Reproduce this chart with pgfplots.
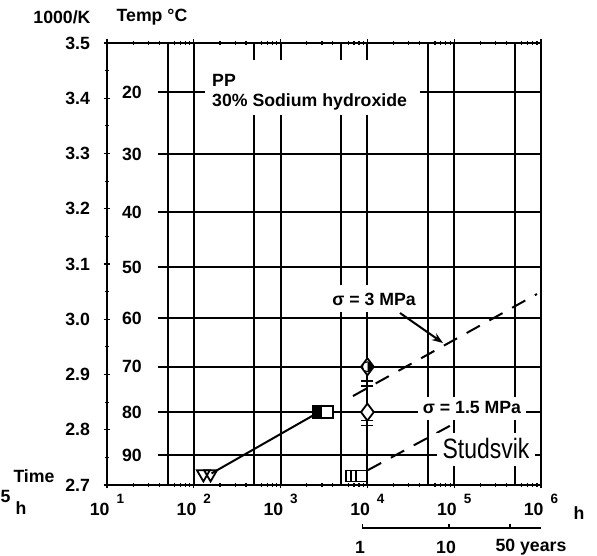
\documentclass[border=0pt]{standalone}
\usepackage{pgfplots}
\pgfplotsset{compat=1.18}
\usepackage{graphicx}
\usepackage{fontspec}
\setmainfont{Liberation Sans}
\usetikzlibrary{arrows.meta}
\newcommand{\f}{\fontsize{17.7}{20}\selectfont\bfseries}
\newcommand{\tl}[1]{10\hspace{7pt}\raisebox{12pt}{\fontsize{13.5}{13.5}\selectfont #1}}
\begin{document}
\begin{tikzpicture}[x=1pt,y=1pt]
\useasboundingbox (-107,-71) rectangle (490,485);
\begin{axis}[
  at={(0,0)}, anchor=south west,
  scale only axis, width=434pt, height=442pt,
  xmode=log, log basis x=10, xmin=10, xmax=1e6, ymin=2.7, ymax=3.5,
  axis line style={line width=2.4pt},
  xtick={10,100,1000,10000,100000,1000000},
  xticklabels={\tl{1},\tl{2},\tl{3},\tl{4},\tl{5},\tl{6}},
  minor xtick={20,30,40,60,70,80,90,200,300,400,600,700,800,900,2000,3000,4000,6000,7000,8000,9000,20000,30000,40000,60000,70000,80000,90000,200000,300000,400000,600000,700000,800000,900000},
  extra x ticks={50,500,5000,50000,500000},
  extra x tick labels={},
  extra x tick style={grid=major, major tick length=0pt},
  xmajorgrids=true,
  major grid style={line width=2pt, black},
  ytick={2.7,2.8,2.9,3.0,3.1,3.2,3.3,3.4,3.5},
  minor ytick={2.75,2.85,2.95,3.05,3.15,3.25,3.35,3.45},
  ytick pos=left,
  xtick pos=both,
  tick align=center,
  major tick length=7pt,
  minor tick length=4pt,
  every tick/.style={black, line width=1.2pt},
  /pgf/number format/assume math mode=true,
  yticklabel style={font=\f, xshift=-10pt, /pgf/number format/.cd, fixed, fixed zerofill, precision=1},
  xticklabel style={font=\f, yshift=-2pt},
  clip=false,
]
% temperature grid lines
\addplot[black, line width=2pt, forget plot] coordinates {(38.7,3.4112) (1e6,3.4112)};
\addplot[black, line width=2pt, forget plot] coordinates {(38.7,3.2987) (1e6,3.2987)};
\addplot[black, line width=2pt, forget plot] coordinates {(38.7,3.1934) (1e6,3.1934)};
\addplot[black, line width=2pt, forget plot] coordinates {(38.7,3.0945) (1e6,3.0945)};
\addplot[black, line width=2pt, forget plot] coordinates {(38.7,3.0017) (1e6,3.0017)};
\addplot[black, line width=2pt, forget plot] coordinates {(38.7,2.9142) (1e6,2.9142)};
\addplot[black, line width=2pt, forget plot] coordinates {(38.7,2.8317) (1e6,2.8317)};
\addplot[black, line width=2pt, forget plot] coordinates {(38.7,2.7537) (1e6,2.7537)};
% fitted lines
\addplot[black, line width=2pt] coordinates {(160,2.721) (2770,2.832)};
\addplot[black, line width=2pt, dash pattern=on 15pt off 11pt] coordinates {(6820,2.861) (899000,3.0457)};
\addplot[black, line width=2pt, dash pattern=on 15pt off 11pt] coordinates {(10160,2.727) (102000,2.812)};
% data
\addplot[only marks, mark=triangle, mark size=7.5pt, mark options={rotate=180, line width=1.8pt, fill=white, draw=black}] coordinates {(129,2.720) (156,2.720)};
\addplot[only marks, mark=square*, mark size=6pt, mark options={line width=1.5pt, fill=black, draw=black}] coordinates {(2770,2.832)};
\addplot[only marks, mark=square*, mark size=6pt, mark options={line width=1.5pt, fill=white, draw=black}] coordinates {(3430,2.832)};
\addplot[only marks, mark=square*, mark size=5.5pt, mark options={line width=1.5pt, fill=white, draw=black}] coordinates {(6550,2.716) (7480,2.716) (8530,2.716)};
\addplot[only marks, mark=-, mark size=6pt, mark options={line width=1.6pt, draw=black}] coordinates {(10000,2.888) (10000,2.879) (10000,2.817) (10000,2.808)};
\addplot[only marks, mark=diamond*, mark size=8.5pt, mark options={line width=1.8pt, fill=white, draw=black}] coordinates {(10000,2.914) (10000,2.832)};
\addplot[only marks, mark=halfcircle*, mark size=5pt, mark options={rotate=-90, line width=1pt, draw=black, fill=black}] coordinates {(10000,2.914)};
\end{axis}
% header labels
\node[font=\f] at (-45,468) {1000/K};
\node[font=\f] at (45,468) {Temp °C};
% temperature labels
\foreach \t/\v in {20/3.4112,30/3.2987,40/3.1934,50/3.0945,60/3.0017,70/2.9142,80/2.8317,90/2.7537}
  \node[font=\f] at (25,{(\v-2.7)*552.5}) {\t};
% PP label
\fill[white] (98,370) rectangle (313,425);
\node[font=\f, anchor=west, inner sep=0] at (105,405) {PP};
\node[font=\f, anchor=west, inner sep=0] at (105,383) {30\% Sodium hydroxide};
% sigma 3 MPa
\fill[white] (223,173) rectangle (313,200);
\node[font=\f] at (267,186) {σ = 3 MPa};
\draw[line width=2pt, -{Stealth[length=11pt,width=8pt]}] (293,172) -- (336,142);
% sigma 1.5 MPa
\fill[white] (311,65) rectangle (419,88);
\node[font=\f] at (365,77) {σ = 1.5 MPa};
% Studsvik
\fill[white] (330,19) rectangle (428,52);
\node[font=\fontsize{28}{30}\selectfont, inner sep=0] at (379,37) {\scalebox{0.82}[1]{Studsvik}};
% left bottom
\node[font=\f] at (-73,9) {Time};
\node[font=\f] at (-86,-23) {h};
\node[font=\f, anchor=west, inner sep=0] at (-106.5,-12) {5};
\node[font=\f] at (472,-28) {h};
% years scale
\draw[line width=1.5pt] (255.4,-43) -- (434,-43);
\draw[line width=1.5pt] (255.4,-43) -- ++(0,4);
\draw[line width=1.5pt] (342.2,-43) -- ++(0,4);
\draw[line width=1.5pt] (402.9,-43) -- ++(0,4);
\node[font=\f] at (253,-62) {1};
\node[font=\f] at (339,-62) {10};
\node[font=\f] at (424,-62) {50 years};
\end{tikzpicture}
\end{document}
